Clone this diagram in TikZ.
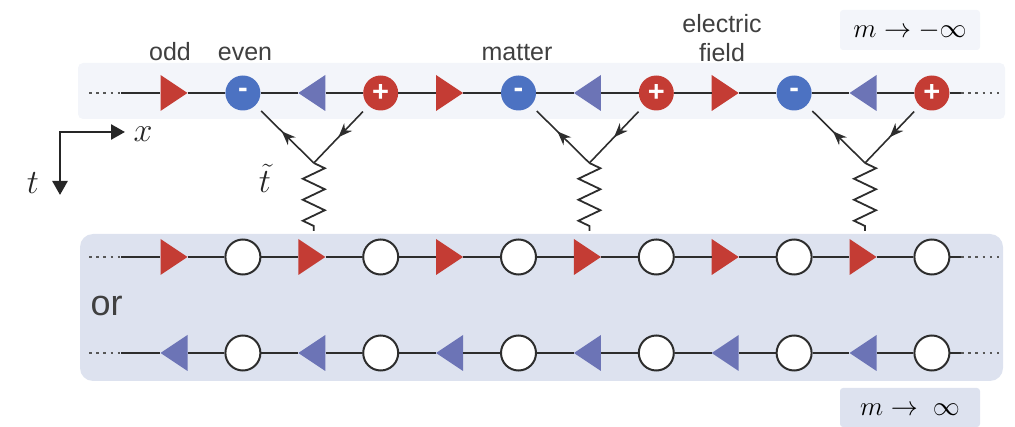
\RequirePackage{fix-cm}
\documentclass[tikz,border=0pt]{standalone}
\usepackage{fontspec}
\setmainfont{Liberation Sans}
\usetikzlibrary{arrows.meta,decorations.pathmorphing,decorations.markings}

\definecolor{redsite}{RGB}{196,60,52}
\definecolor{bluesite}{RGB}{76,114,194}
\definecolor{bluelink}{RGB}{108,116,182}
\definecolor{panellight}{RGB}{243,245,250}
\definecolor{paneldark}{RGB}{221,226,239}
\definecolor{wire}{RGB}{45,45,45}

\tikzset{
  linkR/.style={minimum width=27pt, minimum height=36pt, inner sep=0pt,
    path picture={\fill[redsite] (path picture bounding box.south west)
      -- (path picture bounding box.north west)
      -- (path picture bounding box.east) -- cycle;}},
  linkL/.style={minimum width=27pt, minimum height=36pt, inner sep=0pt,
    path picture={\fill[bluelink] (path picture bounding box.south east)
      -- (path picture bounding box.north east)
      -- (path picture bounding box.west) -- cycle;}},
  chargeplus/.style={circle, fill=redsite, minimum size=35pt, inner sep=0pt,
    text=white, font=\bfseries\fontsize{29}{29}\selectfont},
  chargeminus/.style={circle, fill=bluesite, minimum size=35pt, inner sep=0pt,
    text=white, font=\bfseries\fontsize{29}{29}\selectfont},
  emptysite/.style={circle, draw=wire, line width=2pt, fill=white,
    minimum size=35pt, inner sep=0pt},
  wireline/.style={draw=wire, line width=2pt},
  dotline/.style={draw=wire!80, line width=2.6pt, dash pattern=on 2.6pt off 4.6pt},
  label/.style={font=\fontsize{25}{30}\selectfont, text=black!75, align=center},
  symb/.style={font=\fontsize{34}{34}\selectfont, text=black!85, inner sep=0pt},
  prop/.style={draw=wire, line width=1.6pt,
    decoration={markings, mark=at position 0.55 with {\arrow{Stealth[length=14pt,width=11pt]}}},
    postaction={decorate}},
  coil/.style={draw=wire, line width=1.8pt,
    decoration={zigzag, segment length=21pt, amplitude=11pt}, decorate},
  axisline/.style={draw=black!85, line width=2.6pt,
    {Triangle[length=14pt,width=15pt]}-{Triangle[length=14pt,width=15pt]}},
}

\begin{document}
\begin{tikzpicture}[x=1pt, y=-1pt]
  \useasboundingbox (0,0) rectangle (1015,427);

  % panels
  \fill[panellight, rounded corners=5pt] (78,63) rectangle (1005,119);
  \fill[paneldark, rounded corners=13pt] (80,234) rectangle (1003,381);
  \fill[panellight, rounded corners=3pt] (840,10) rectangle (980,50);
  \fill[paneldark, rounded corners=3pt] (840,388) rectangle (980,427);

  % sites and links of the three chains
  \foreach \k in {0,...,11} {
    \pgfmathsetmacro{\xx}{174+68.9*\k}
    \pgfmathtruncatemacro{\r}{mod(\k,4)}
    \ifcase\r
      \node[linkR] (t\k) at (\xx,93) {};
    \or
      \node[chargeminus] (t\k) at (\xx,93) {-};
    \or
      \node[linkL] (t\k) at (\xx,93) {};
    \or
      \node[chargeplus] (t\k) at (\xx,93) {+};
    \fi
    \pgfmathtruncatemacro{\s}{mod(\k,2)}
    \ifcase\s
      \node[linkR] (b\k) at (\xx,257) {};
      \node[linkL] (c\k) at (\xx,353) {};
    \or
      \node[emptysite] (b\k) at (\xx,257) {};
      \node[emptysite] (c\k) at (\xx,353) {};
    \fi
  }

  % chain ends
  \foreach \row/\yy in {t/93, b/257, c/353} {
    \coordinate (\row Ld) at (89,\yy);
    \coordinate (\row Ls) at (121,\yy);
    \coordinate (\row Rs) at (961,\yy);
    \coordinate (\row Rd) at (999,\yy);
    \draw[dotline] (\row Ld) -- (\row Ls);
    \draw[dotline] (\row Rs) -- (\row Rd);
    \draw[wireline] (\row Ls) -- (\row 0);
    \draw[wireline] (\row 11) -- (\row Rs);
    \foreach \k in {0,...,10} {
      \pgfmathtruncatemacro{\n}{\k+1}
      \draw[wireline] (\row\k) -- (\row\n);
    }
  }

  % hopping vertices
  \foreach \i/\a/\m/\c in {1/1/2/3, 2/5/6/7, 3/9/10/11} {
    \path (t\m) ++(2,70) coordinate (v\i);
    \path (t\m) ++(2,138) coordinate (w\i);
    \draw[prop, shorten >=8pt] (v\i) -- (t\a);
    \draw[prop, shorten <=8pt] (t\c) -- (v\i);
    \draw[coil] (v\i) -- (w\i);
  }

  % labels
  \node[label, anchor=base] (lodd) at (170,61) {odd};
  \node[label, anchor=base] (leven) at (245,61) {even};
  \node[label, anchor=base] (lmatter) at (517,61) {matter};
  \node[label, anchor=base] (lfield) at (722,62) {field};
  \node[label, anchor=base] (lelec) at (722,33) {electric};
  \node[font=\fontsize{36}{40}\selectfont, text=black!75, anchor=base west] (lor) at (87,316) {or};
  \node[font=\fontsize{27}{27}\selectfont] (mneg) at (910,31) {$m \rightarrow -\infty$};
  \node[font=\fontsize{27}{27}\selectfont] (mpos) at (910,410) {$m \rightarrow\; \infty$};
  \node[symb] (ltt) at (265,178) {$\tilde{t}$};

  % axes
  \coordinate (ax0) at (60,132);
  \coordinate (axx) at (125,132);
  \coordinate (axt) at (60,195);
  \draw[axisline] (axx) -- (ax0) -- (axt);
  \node[symb] (lx) at (143,134) {$x$};
  \node[symb] (lt) at (33,183) {$t$};
\end{tikzpicture}
\end{document}
